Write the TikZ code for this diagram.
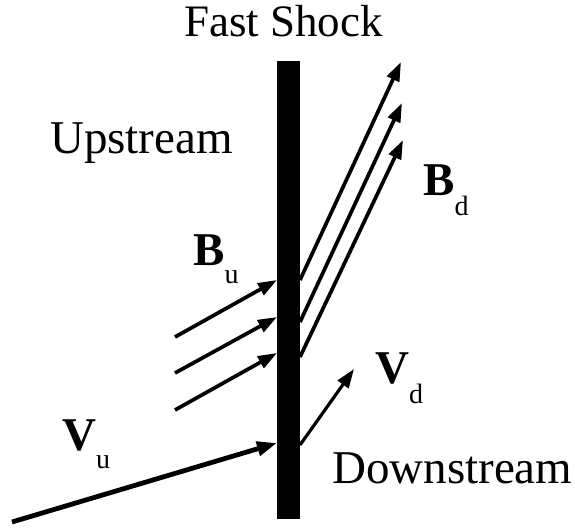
\documentclass[tikz,border=0pt]{standalone}
\usepackage{fontspec}
\setmainfont{Liberation Serif}
\usetikzlibrary{positioning, arrows.meta}

\begin{document}
\begin{tikzpicture}[
    x=1pt, y=-1pt,
    label/.style={anchor=base west, inner sep=0pt, font=\fontsize{47}{50}\selectfont},
    vec/.style={anchor=base west, inner sep=0pt, font=\fontsize{47}{50}\selectfont\bfseries},
    field/.style={-{Triangle[length=19pt, width=13pt]}, line width=3.7pt},
    flow/.style={-{Triangle[length=20pt, width=14pt]}, line width=4.8pt},
]
\useasboundingbox (0, 0) rectangle (575, 527);

% --- Shock front ---
\node[fill=black, inner sep=0pt, minimum width=23pt, minimum height=458pt]
    (shock) at (288.5, 290) {};

% --- Labels ---
\node[label, font=\fontsize{45}{48}\selectfont] (title) at (184, 37) {Fast Shock};
\node[label] (up) at (50, 153) {Upstream};
\node[label] (down) at (332, 483) {Downstream};
\node[vec] (Bu) at (193, 265)
    {B\raisebox{-18pt}{\fontsize{28}{30}\selectfont\mdseries u}};
\node[vec] (Bd) at (423, 195)
    {B\raisebox{-20pt}{\fontsize{28}{30}\selectfont\mdseries d}};
\node[vec] (Vd) at (375, 383)
    {V\raisebox{-20pt}{\fontsize{28}{30}\selectfont\mdseries d}};
\node[vec] (Vu) at (62, 450)
    {V\raisebox{-18pt}{\fontsize{28}{30}\selectfont\mdseries u}};

% --- Upstream field lines ---
\coordinate (bu1) at (175, 337); \coordinate (hu1) at (277, 280);
\coordinate (bu2) at (175, 373); \coordinate (hu2) at (277, 317);
\coordinate (bu3) at (175, 410); \coordinate (hu3) at (277, 353);
\draw[field] (bu1) -- (hu1);
\draw[field] (bu2) -- (hu2);
\draw[field] (bu3) -- (hu3);

% --- Downstream field lines ---
\coordinate (bd1) at (300, 280); \coordinate (hd1) at (401, 62);
\coordinate (bd2) at (300, 322); \coordinate (hd2) at (402, 103);
\coordinate (bd3) at (300, 357); \coordinate (hd3) at (403, 140);
\draw[field] (bd1) -- (hd1);
\draw[field] (bd2) -- (hd2);
\draw[field] (bd3) -- (hd3);

% --- Flow velocities ---
\coordinate (vu0) at (12, 522); \coordinate (vu1) at (277, 443);
\coordinate (vd0) at (300, 445); \coordinate (vd1) at (354, 369);
\draw[flow] (vu0) -- (vu1);
\draw[field, line width=3.2pt] (vd0) -- (vd1);
\end{tikzpicture}
\end{document}
